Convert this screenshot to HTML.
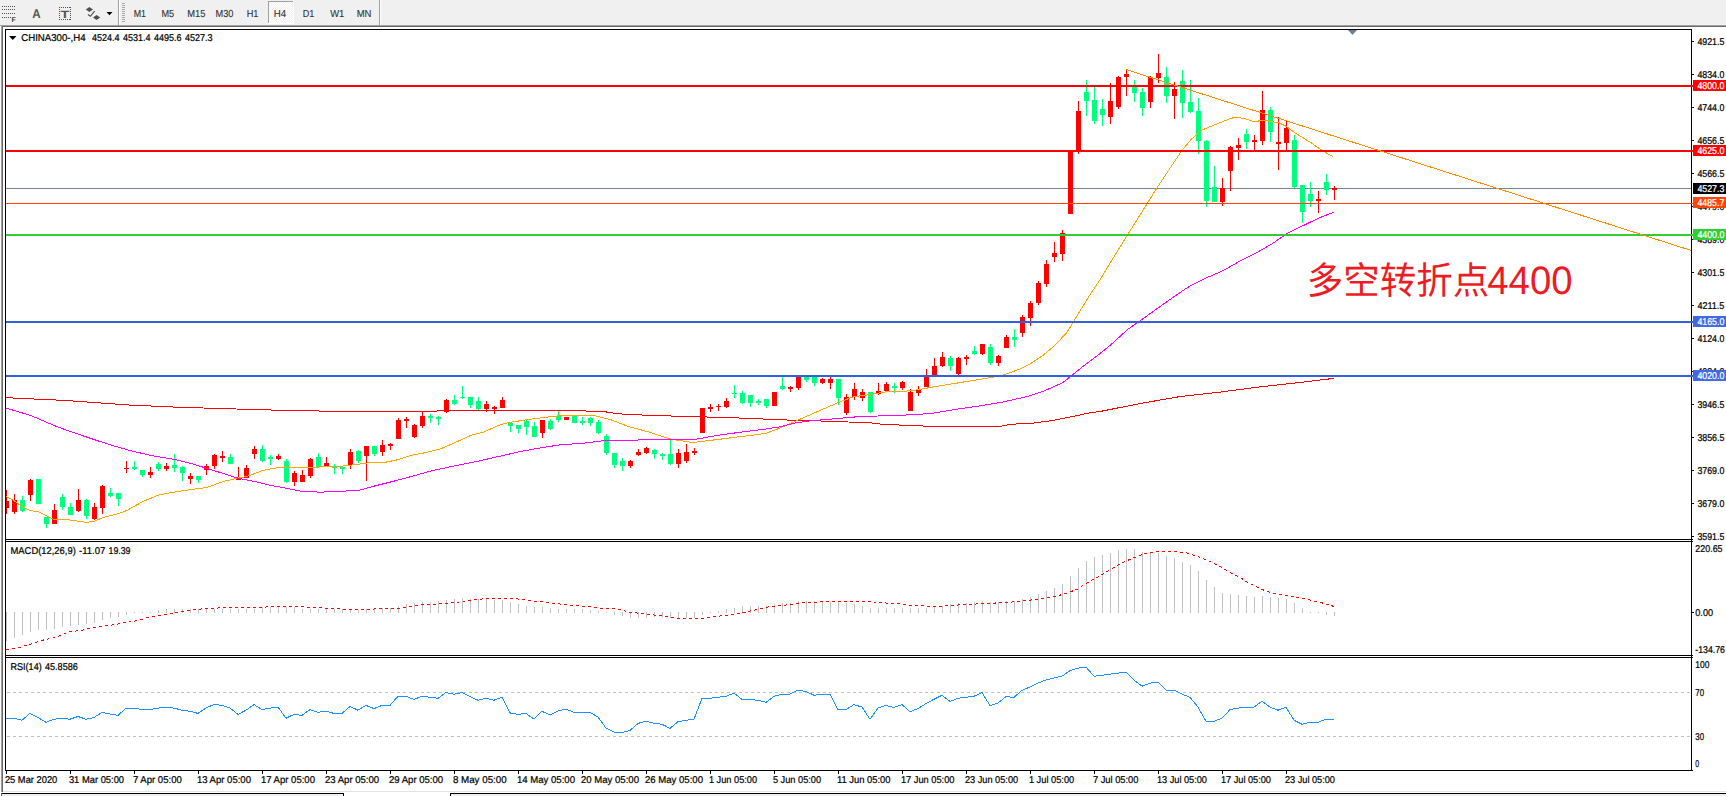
<!DOCTYPE html>
<html lang="zh"><head><meta charset="utf-8"><title>CHINA300-,H4</title>
<style>
html,body{margin:0;padding:0;background:#fff;overflow:hidden}
body{width:1726px;height:796px;position:relative;font-family:"Liberation Sans", "DejaVu Sans", sans-serif}
svg{position:absolute;left:0;top:0;display:block;text-rendering:geometricPrecision}
.t{font-family:"Liberation Sans", "DejaVu Sans", sans-serif;font-size:9.9px;fill:#000;stroke:#000;stroke-width:0.22px}
.tb{font-family:"Liberation Sans", "DejaVu Sans", sans-serif;font-size:10.2px;fill:#303030;stroke:#303030;stroke-width:0.1px}
.w{fill:#fff;stroke:#fff}
.cjk{font-family:"Liberation Sans","Noto Sans CJK SC",sans-serif;font-size:36px;fill:#ed1c24}
</style></head><body>
<svg width="1726" height="796" viewBox="0 0 1726 796">
<g shape-rendering="crispEdges">
<rect x="0" y="0" width="1726" height="796" fill="#fff"/>
<rect x="0" y="0" width="1726" height="25" fill="#f0f0f0"/>
<rect x="0" y="25" width="1726" height="1" fill="#a0a0a0"/>
<rect x="1" y="26" width="1726" height="1" fill="#696969"/>
<rect x="0" y="26" width="1" height="770" fill="#fbfbfb"/>
<rect x="1" y="26" width="1" height="766" fill="#a0a0a0"/>
<rect x="2" y="27" width="1" height="765" fill="#696969"/>
<rect x="3" y="791" width="1726" height="1" fill="#e3e3e3"/>
<rect x="2" y="794" width="341" height="2" fill="#f0f0f0"/>
<rect x="451" y="794" width="1275" height="2" fill="#f0f0f0"/>
<rect x="1" y="793" width="343" height="1" fill="#000"/>
<rect x="343" y="793" width="1" height="3" fill="#000"/>
<rect x="1" y="793" width="1" height="3" fill="#696969"/>
<rect x="450" y="793" width="1276" height="1" fill="#000"/>
<rect x="450" y="793" width="1" height="3" fill="#000"/>
<rect x="5" y="29" width="1" height="742" fill="#000"/>
<rect x="5" y="29" width="1687" height="1" fill="#000"/>
<rect x="1691" y="29" width="1" height="742" fill="#000"/>
<rect x="5" y="539" width="1688" height="1" fill="#000"/>
<rect x="5" y="541" width="1688" height="1" fill="#000"/>
<rect x="5" y="655" width="1688" height="1" fill="#000"/>
<rect x="5" y="657" width="1688" height="1" fill="#000"/>
<rect x="5" y="770" width="1688" height="1" fill="#000"/>
</g>
<g shape-rendering="crispEdges">
<rect x="6" y="188" width="1685" height="1" fill="#76869a"/>
<rect x="6" y="490" width="1" height="24" fill="#ff0000"/>
<rect x="6" y="501" width="3" height="7" fill="#ff0000"/>
<rect x="14" y="494" width="1" height="20" fill="#ff0000"/>
<rect x="12" y="500" width="5" height="12" fill="#ff0000"/>
<rect x="22" y="496" width="1" height="16" fill="#00ff7f"/>
<rect x="20" y="500" width="5" height="11" fill="#00ff7f"/>
<rect x="30" y="479" width="1" height="22" fill="#ff0000"/>
<rect x="28" y="480" width="5" height="15" fill="#ff0000"/>
<rect x="38" y="479" width="1" height="25" fill="#00ff7f"/>
<rect x="36" y="479" width="5" height="25" fill="#00ff7f"/>
<rect x="46" y="517" width="1" height="11" fill="#00ff7f"/>
<rect x="44" y="517" width="5" height="7" fill="#00ff7f"/>
<rect x="54" y="504" width="1" height="20" fill="#ff0000"/>
<rect x="52" y="510" width="5" height="14" fill="#ff0000"/>
<rect x="62" y="494" width="1" height="16" fill="#00ff7f"/>
<rect x="60" y="497" width="5" height="10" fill="#00ff7f"/>
<rect x="70" y="503" width="1" height="12" fill="#00ff7f"/>
<rect x="68" y="507" width="5" height="8" fill="#00ff7f"/>
<rect x="78" y="489" width="1" height="23" fill="#ff0000"/>
<rect x="76" y="500" width="5" height="11" fill="#ff0000"/>
<rect x="86" y="499" width="1" height="20" fill="#00ff7f"/>
<rect x="84" y="500" width="5" height="16" fill="#00ff7f"/>
<rect x="94" y="503" width="1" height="17" fill="#ff0000"/>
<rect x="92" y="507" width="5" height="12" fill="#ff0000"/>
<rect x="102" y="485" width="1" height="29" fill="#ff0000"/>
<rect x="100" y="486" width="5" height="22" fill="#ff0000"/>
<rect x="110" y="488" width="1" height="9" fill="#00ff7f"/>
<rect x="108" y="493" width="5" height="3" fill="#00ff7f"/>
<rect x="118" y="493" width="1" height="13" fill="#00ff7f"/>
<rect x="116" y="493" width="5" height="6" fill="#00ff7f"/>
<rect x="126" y="461" width="1" height="12" fill="#ff0000"/>
<rect x="124" y="468" width="5" height="1" fill="#ff0000"/>
<rect x="134" y="461" width="1" height="9" fill="#00ff7f"/>
<rect x="132" y="467" width="5" height="2" fill="#00ff7f"/>
<rect x="142" y="470" width="1" height="7" fill="#00ff7f"/>
<rect x="140" y="470" width="5" height="5" fill="#00ff7f"/>
<rect x="150" y="467" width="1" height="11" fill="#ff0000"/>
<rect x="148" y="472" width="5" height="3" fill="#ff0000"/>
<rect x="158" y="462" width="1" height="9" fill="#00ff7f"/>
<rect x="156" y="464" width="5" height="5" fill="#00ff7f"/>
<rect x="166" y="463" width="1" height="8" fill="#ff0000"/>
<rect x="164" y="466" width="5" height="3" fill="#ff0000"/>
<rect x="174" y="454" width="1" height="18" fill="#00ff7f"/>
<rect x="172" y="465" width="5" height="3" fill="#00ff7f"/>
<rect x="182" y="466" width="1" height="15" fill="#00ff7f"/>
<rect x="180" y="467" width="5" height="6" fill="#00ff7f"/>
<rect x="190" y="473" width="1" height="11" fill="#ff0000"/>
<rect x="188" y="476" width="5" height="3" fill="#ff0000"/>
<rect x="198" y="476" width="1" height="7" fill="#00ff7f"/>
<rect x="196" y="476" width="5" height="4" fill="#00ff7f"/>
<rect x="206" y="464" width="1" height="11" fill="#ff0000"/>
<rect x="204" y="466" width="5" height="4" fill="#ff0000"/>
<rect x="214" y="454" width="1" height="15" fill="#ff0000"/>
<rect x="212" y="455" width="5" height="11" fill="#ff0000"/>
<rect x="222" y="451" width="1" height="11" fill="#ff0000"/>
<rect x="220" y="456" width="5" height="2" fill="#ff0000"/>
<rect x="230" y="454" width="1" height="10" fill="#00ff7f"/>
<rect x="228" y="457" width="5" height="7" fill="#00ff7f"/>
<rect x="238" y="467" width="1" height="13" fill="#ff0000"/>
<rect x="236" y="477" width="5" height="3" fill="#ff0000"/>
<rect x="246" y="465" width="1" height="13" fill="#ff0000"/>
<rect x="244" y="468" width="5" height="10" fill="#ff0000"/>
<rect x="254" y="446" width="1" height="13" fill="#ff0000"/>
<rect x="252" y="449" width="5" height="5" fill="#ff0000"/>
<rect x="262" y="445" width="1" height="17" fill="#00ff7f"/>
<rect x="260" y="449" width="5" height="12" fill="#00ff7f"/>
<rect x="270" y="455" width="1" height="10" fill="#00ff7f"/>
<rect x="268" y="457" width="5" height="2" fill="#00ff7f"/>
<rect x="278" y="454" width="1" height="6" fill="#ff0000"/>
<rect x="276" y="456" width="5" height="3" fill="#ff0000"/>
<rect x="286" y="459" width="1" height="24" fill="#00ff7f"/>
<rect x="284" y="461" width="5" height="21" fill="#00ff7f"/>
<rect x="294" y="471" width="1" height="15" fill="#ff0000"/>
<rect x="292" y="473" width="5" height="9" fill="#ff0000"/>
<rect x="302" y="470" width="1" height="12" fill="#ff0000"/>
<rect x="300" y="475" width="5" height="7" fill="#ff0000"/>
<rect x="310" y="458" width="1" height="20" fill="#ff0000"/>
<rect x="308" y="459" width="5" height="17" fill="#ff0000"/>
<rect x="318" y="453" width="1" height="15" fill="#00ff7f"/>
<rect x="316" y="457" width="5" height="10" fill="#00ff7f"/>
<rect x="326" y="457" width="1" height="10" fill="#ff0000"/>
<rect x="324" y="463" width="5" height="4" fill="#ff0000"/>
<rect x="334" y="464" width="1" height="10" fill="#00ff7f"/>
<rect x="332" y="467" width="5" height="1" fill="#00ff7f"/>
<rect x="342" y="467" width="1" height="7" fill="#00ff7f"/>
<rect x="340" y="467" width="5" height="2" fill="#00ff7f"/>
<rect x="350" y="449" width="1" height="20" fill="#ff0000"/>
<rect x="348" y="452" width="5" height="13" fill="#ff0000"/>
<rect x="358" y="450" width="1" height="13" fill="#00ff7f"/>
<rect x="356" y="451" width="5" height="10" fill="#00ff7f"/>
<rect x="366" y="446" width="1" height="35" fill="#ff0000"/>
<rect x="364" y="446" width="5" height="10" fill="#ff0000"/>
<rect x="374" y="446" width="1" height="10" fill="#00ff7f"/>
<rect x="372" y="446" width="5" height="8" fill="#00ff7f"/>
<rect x="382" y="440" width="1" height="16" fill="#ff0000"/>
<rect x="380" y="445" width="5" height="7" fill="#ff0000"/>
<rect x="390" y="443" width="1" height="7" fill="#ff0000"/>
<rect x="388" y="444" width="5" height="2" fill="#ff0000"/>
<rect x="398" y="418" width="1" height="21" fill="#ff0000"/>
<rect x="396" y="420" width="5" height="19" fill="#ff0000"/>
<rect x="406" y="417" width="1" height="11" fill="#ff0000"/>
<rect x="404" y="419" width="5" height="2" fill="#ff0000"/>
<rect x="414" y="424" width="1" height="14" fill="#ff0000"/>
<rect x="412" y="425" width="5" height="12" fill="#ff0000"/>
<rect x="422" y="412" width="1" height="16" fill="#ff0000"/>
<rect x="420" y="416" width="5" height="10" fill="#ff0000"/>
<rect x="430" y="414" width="1" height="9" fill="#00ff7f"/>
<rect x="428" y="416" width="5" height="2" fill="#00ff7f"/>
<rect x="438" y="416" width="1" height="9" fill="#00ff7f"/>
<rect x="436" y="417" width="5" height="2" fill="#00ff7f"/>
<rect x="446" y="399" width="1" height="14" fill="#ff0000"/>
<rect x="444" y="400" width="5" height="12" fill="#ff0000"/>
<rect x="454" y="395" width="1" height="10" fill="#00ff7f"/>
<rect x="452" y="400" width="5" height="4" fill="#00ff7f"/>
<rect x="462" y="386" width="1" height="13" fill="#00ff7f"/>
<rect x="460" y="397" width="5" height="1" fill="#00ff7f"/>
<rect x="470" y="397" width="1" height="11" fill="#00ff7f"/>
<rect x="468" y="397" width="5" height="8" fill="#00ff7f"/>
<rect x="478" y="397" width="1" height="13" fill="#00ff7f"/>
<rect x="476" y="401" width="5" height="8" fill="#00ff7f"/>
<rect x="486" y="401" width="1" height="11" fill="#ff0000"/>
<rect x="484" y="404" width="5" height="5" fill="#ff0000"/>
<rect x="494" y="406" width="1" height="8" fill="#ff0000"/>
<rect x="492" y="407" width="5" height="2" fill="#ff0000"/>
<rect x="502" y="397" width="1" height="11" fill="#ff0000"/>
<rect x="500" y="400" width="5" height="8" fill="#ff0000"/>
<rect x="510" y="423" width="1" height="9" fill="#00ff7f"/>
<rect x="508" y="423" width="5" height="3" fill="#00ff7f"/>
<rect x="518" y="425" width="1" height="8" fill="#00ff7f"/>
<rect x="516" y="425" width="5" height="4" fill="#00ff7f"/>
<rect x="526" y="420" width="1" height="15" fill="#00ff7f"/>
<rect x="524" y="421" width="5" height="6" fill="#00ff7f"/>
<rect x="534" y="422" width="1" height="15" fill="#00ff7f"/>
<rect x="532" y="426" width="5" height="11" fill="#00ff7f"/>
<rect x="542" y="420" width="1" height="18" fill="#ff0000"/>
<rect x="540" y="420" width="5" height="13" fill="#ff0000"/>
<rect x="550" y="419" width="1" height="11" fill="#00ff7f"/>
<rect x="548" y="421" width="5" height="8" fill="#00ff7f"/>
<rect x="558" y="411" width="1" height="11" fill="#00ff7f"/>
<rect x="556" y="416" width="5" height="4" fill="#00ff7f"/>
<rect x="566" y="417" width="1" height="3" fill="#ff0000"/>
<rect x="564" y="417" width="5" height="3" fill="#ff0000"/>
<rect x="574" y="416" width="1" height="7" fill="#00ff7f"/>
<rect x="572" y="416" width="5" height="7" fill="#00ff7f"/>
<rect x="582" y="417" width="1" height="8" fill="#00ff7f"/>
<rect x="580" y="421" width="5" height="2" fill="#00ff7f"/>
<rect x="590" y="417" width="1" height="9" fill="#00ff7f"/>
<rect x="588" y="418" width="5" height="5" fill="#00ff7f"/>
<rect x="598" y="420" width="1" height="14" fill="#00ff7f"/>
<rect x="596" y="422" width="5" height="11" fill="#00ff7f"/>
<rect x="606" y="434" width="1" height="21" fill="#00ff7f"/>
<rect x="604" y="436" width="5" height="17" fill="#00ff7f"/>
<rect x="614" y="453" width="1" height="15" fill="#00ff7f"/>
<rect x="612" y="453" width="5" height="12" fill="#00ff7f"/>
<rect x="622" y="458" width="1" height="13" fill="#00ff7f"/>
<rect x="620" y="461" width="5" height="5" fill="#00ff7f"/>
<rect x="630" y="460" width="1" height="8" fill="#ff0000"/>
<rect x="628" y="461" width="5" height="5" fill="#ff0000"/>
<rect x="638" y="449" width="1" height="7" fill="#ff0000"/>
<rect x="636" y="452" width="5" height="3" fill="#ff0000"/>
<rect x="646" y="447" width="1" height="7" fill="#ff0000"/>
<rect x="644" y="448" width="5" height="5" fill="#ff0000"/>
<rect x="654" y="449" width="1" height="10" fill="#00ff7f"/>
<rect x="652" y="450" width="5" height="4" fill="#00ff7f"/>
<rect x="662" y="453" width="1" height="7" fill="#00ff7f"/>
<rect x="660" y="454" width="5" height="2" fill="#00ff7f"/>
<rect x="670" y="438" width="1" height="27" fill="#00ff7f"/>
<rect x="668" y="454" width="5" height="10" fill="#00ff7f"/>
<rect x="678" y="449" width="1" height="19" fill="#ff0000"/>
<rect x="676" y="453" width="5" height="11" fill="#ff0000"/>
<rect x="686" y="444" width="1" height="19" fill="#ff0000"/>
<rect x="684" y="452" width="5" height="9" fill="#ff0000"/>
<rect x="694" y="448" width="1" height="7" fill="#ff0000"/>
<rect x="692" y="451" width="5" height="2" fill="#ff0000"/>
<rect x="702" y="408" width="1" height="25" fill="#ff0000"/>
<rect x="700" y="408" width="5" height="25" fill="#ff0000"/>
<rect x="710" y="404" width="1" height="8" fill="#ff0000"/>
<rect x="708" y="407" width="5" height="2" fill="#ff0000"/>
<rect x="718" y="404" width="1" height="7" fill="#ff0000"/>
<rect x="716" y="406" width="5" height="1" fill="#ff0000"/>
<rect x="726" y="398" width="1" height="10" fill="#ff0000"/>
<rect x="724" y="401" width="5" height="6" fill="#ff0000"/>
<rect x="734" y="385" width="1" height="13" fill="#00ff7f"/>
<rect x="732" y="393" width="5" height="1" fill="#00ff7f"/>
<rect x="742" y="391" width="1" height="13" fill="#00ff7f"/>
<rect x="740" y="393" width="5" height="10" fill="#00ff7f"/>
<rect x="750" y="395" width="1" height="12" fill="#00ff7f"/>
<rect x="748" y="395" width="5" height="8" fill="#00ff7f"/>
<rect x="758" y="399" width="1" height="6" fill="#00ff7f"/>
<rect x="756" y="401" width="5" height="2" fill="#00ff7f"/>
<rect x="766" y="399" width="1" height="9" fill="#00ff7f"/>
<rect x="764" y="399" width="5" height="7" fill="#00ff7f"/>
<rect x="774" y="392" width="1" height="14" fill="#ff0000"/>
<rect x="772" y="392" width="5" height="14" fill="#ff0000"/>
<rect x="782" y="377" width="1" height="13" fill="#00ff7f"/>
<rect x="780" y="386" width="5" height="3" fill="#00ff7f"/>
<rect x="790" y="386" width="1" height="6" fill="#ff0000"/>
<rect x="788" y="387" width="5" height="2" fill="#ff0000"/>
<rect x="798" y="377" width="1" height="13" fill="#ff0000"/>
<rect x="796" y="377" width="5" height="11" fill="#ff0000"/>
<rect x="806" y="377" width="1" height="5" fill="#00ff7f"/>
<rect x="804" y="377" width="5" height="3" fill="#00ff7f"/>
<rect x="814" y="377" width="1" height="9" fill="#00ff7f"/>
<rect x="812" y="377" width="5" height="6" fill="#00ff7f"/>
<rect x="822" y="378" width="1" height="6" fill="#ff0000"/>
<rect x="820" y="379" width="5" height="4" fill="#ff0000"/>
<rect x="830" y="377" width="1" height="12" fill="#ff0000"/>
<rect x="828" y="379" width="5" height="4" fill="#ff0000"/>
<rect x="838" y="379" width="1" height="26" fill="#00ff7f"/>
<rect x="836" y="379" width="5" height="19" fill="#00ff7f"/>
<rect x="846" y="394" width="1" height="21" fill="#ff0000"/>
<rect x="844" y="397" width="5" height="16" fill="#ff0000"/>
<rect x="854" y="383" width="1" height="17" fill="#ff0000"/>
<rect x="852" y="389" width="5" height="8" fill="#ff0000"/>
<rect x="862" y="389" width="1" height="12" fill="#ff0000"/>
<rect x="860" y="392" width="5" height="6" fill="#ff0000"/>
<rect x="870" y="392" width="1" height="21" fill="#00ff7f"/>
<rect x="868" y="392" width="5" height="20" fill="#00ff7f"/>
<rect x="878" y="383" width="1" height="12" fill="#ff0000"/>
<rect x="876" y="391" width="5" height="3" fill="#ff0000"/>
<rect x="886" y="382" width="1" height="9" fill="#ff0000"/>
<rect x="884" y="384" width="5" height="7" fill="#ff0000"/>
<rect x="894" y="383" width="1" height="10" fill="#00ff7f"/>
<rect x="892" y="386" width="5" height="2" fill="#00ff7f"/>
<rect x="902" y="381" width="1" height="9" fill="#ff0000"/>
<rect x="900" y="382" width="5" height="6" fill="#ff0000"/>
<rect x="910" y="389" width="1" height="22" fill="#ff0000"/>
<rect x="908" y="392" width="5" height="19" fill="#ff0000"/>
<rect x="918" y="386" width="1" height="10" fill="#ff0000"/>
<rect x="916" y="389" width="5" height="4" fill="#ff0000"/>
<rect x="926" y="369" width="1" height="18" fill="#ff0000"/>
<rect x="924" y="376" width="5" height="11" fill="#ff0000"/>
<rect x="934" y="358" width="1" height="17" fill="#ff0000"/>
<rect x="932" y="366" width="5" height="9" fill="#ff0000"/>
<rect x="942" y="352" width="1" height="15" fill="#ff0000"/>
<rect x="940" y="357" width="5" height="9" fill="#ff0000"/>
<rect x="950" y="356" width="1" height="15" fill="#00ff7f"/>
<rect x="948" y="358" width="5" height="8" fill="#00ff7f"/>
<rect x="958" y="357" width="1" height="18" fill="#ff0000"/>
<rect x="956" y="358" width="5" height="16" fill="#ff0000"/>
<rect x="966" y="355" width="1" height="10" fill="#ff0000"/>
<rect x="964" y="357" width="5" height="2" fill="#ff0000"/>
<rect x="974" y="346" width="1" height="9" fill="#00ff7f"/>
<rect x="972" y="351" width="5" height="3" fill="#00ff7f"/>
<rect x="982" y="344" width="1" height="11" fill="#ff0000"/>
<rect x="980" y="344" width="5" height="10" fill="#ff0000"/>
<rect x="990" y="344" width="1" height="21" fill="#00ff7f"/>
<rect x="988" y="347" width="5" height="16" fill="#00ff7f"/>
<rect x="998" y="355" width="1" height="11" fill="#ff0000"/>
<rect x="996" y="356" width="5" height="7" fill="#ff0000"/>
<rect x="1006" y="335" width="1" height="13" fill="#ff0000"/>
<rect x="1004" y="337" width="5" height="11" fill="#ff0000"/>
<rect x="1014" y="329" width="1" height="18" fill="#00ff7f"/>
<rect x="1012" y="337" width="5" height="3" fill="#00ff7f"/>
<rect x="1022" y="315" width="1" height="22" fill="#ff0000"/>
<rect x="1020" y="317" width="5" height="16" fill="#ff0000"/>
<rect x="1030" y="301" width="1" height="25" fill="#ff0000"/>
<rect x="1028" y="303" width="5" height="15" fill="#ff0000"/>
<rect x="1038" y="281" width="1" height="24" fill="#ff0000"/>
<rect x="1036" y="283" width="5" height="20" fill="#ff0000"/>
<rect x="1046" y="260" width="1" height="27" fill="#ff0000"/>
<rect x="1044" y="264" width="5" height="20" fill="#ff0000"/>
<rect x="1054" y="242" width="1" height="20" fill="#ff0000"/>
<rect x="1052" y="253" width="5" height="4" fill="#ff0000"/>
<rect x="1062" y="230" width="1" height="31" fill="#ff0000"/>
<rect x="1060" y="233" width="5" height="21" fill="#ff0000"/>
<rect x="1070" y="151" width="1" height="63" fill="#ff0000"/>
<rect x="1068" y="151" width="5" height="63" fill="#ff0000"/>
<rect x="1078" y="101" width="1" height="53" fill="#ff0000"/>
<rect x="1076" y="111" width="5" height="40" fill="#ff0000"/>
<rect x="1086" y="80" width="1" height="36" fill="#00ff7f"/>
<rect x="1084" y="92" width="5" height="9" fill="#00ff7f"/>
<rect x="1094" y="87" width="1" height="37" fill="#00ff7f"/>
<rect x="1092" y="100" width="5" height="21" fill="#00ff7f"/>
<rect x="1102" y="99" width="1" height="27" fill="#00ff7f"/>
<rect x="1100" y="109" width="5" height="6" fill="#00ff7f"/>
<rect x="1110" y="83" width="1" height="41" fill="#ff0000"/>
<rect x="1108" y="101" width="5" height="16" fill="#ff0000"/>
<rect x="1118" y="76" width="1" height="33" fill="#ff0000"/>
<rect x="1116" y="77" width="5" height="30" fill="#ff0000"/>
<rect x="1126" y="69" width="1" height="27" fill="#ff0000"/>
<rect x="1124" y="74" width="5" height="3" fill="#ff0000"/>
<rect x="1134" y="80" width="1" height="22" fill="#00ff7f"/>
<rect x="1132" y="87" width="5" height="6" fill="#00ff7f"/>
<rect x="1142" y="88" width="1" height="28" fill="#00ff7f"/>
<rect x="1140" y="92" width="5" height="16" fill="#00ff7f"/>
<rect x="1150" y="76" width="1" height="32" fill="#ff0000"/>
<rect x="1148" y="77" width="5" height="25" fill="#ff0000"/>
<rect x="1158" y="54" width="1" height="29" fill="#ff0000"/>
<rect x="1156" y="73" width="5" height="5" fill="#ff0000"/>
<rect x="1166" y="67" width="1" height="36" fill="#00ff7f"/>
<rect x="1164" y="77" width="5" height="19" fill="#00ff7f"/>
<rect x="1174" y="82" width="1" height="37" fill="#ff0000"/>
<rect x="1172" y="89" width="5" height="7" fill="#ff0000"/>
<rect x="1182" y="70" width="1" height="48" fill="#00ff7f"/>
<rect x="1180" y="81" width="5" height="22" fill="#00ff7f"/>
<rect x="1190" y="80" width="1" height="33" fill="#00ff7f"/>
<rect x="1188" y="102" width="5" height="10" fill="#00ff7f"/>
<rect x="1198" y="98" width="1" height="56" fill="#00ff7f"/>
<rect x="1196" y="111" width="5" height="30" fill="#00ff7f"/>
<rect x="1206" y="140" width="1" height="67" fill="#00ff7f"/>
<rect x="1204" y="141" width="5" height="60" fill="#00ff7f"/>
<rect x="1214" y="166" width="1" height="36" fill="#00ff7f"/>
<rect x="1212" y="187" width="5" height="15" fill="#00ff7f"/>
<rect x="1222" y="178" width="1" height="28" fill="#ff0000"/>
<rect x="1220" y="188" width="5" height="14" fill="#ff0000"/>
<rect x="1230" y="146" width="1" height="45" fill="#ff0000"/>
<rect x="1228" y="147" width="5" height="24" fill="#ff0000"/>
<rect x="1238" y="138" width="1" height="22" fill="#ff0000"/>
<rect x="1236" y="145" width="5" height="3" fill="#ff0000"/>
<rect x="1246" y="129" width="1" height="20" fill="#00ff7f"/>
<rect x="1244" y="134" width="5" height="8" fill="#00ff7f"/>
<rect x="1254" y="135" width="1" height="15" fill="#ff0000"/>
<rect x="1252" y="140" width="5" height="2" fill="#ff0000"/>
<rect x="1262" y="91" width="1" height="54" fill="#ff0000"/>
<rect x="1260" y="110" width="5" height="31" fill="#ff0000"/>
<rect x="1270" y="107" width="1" height="35" fill="#00ff7f"/>
<rect x="1268" y="110" width="5" height="22" fill="#00ff7f"/>
<rect x="1278" y="117" width="1" height="53" fill="#ff0000"/>
<rect x="1276" y="142" width="5" height="2" fill="#ff0000"/>
<rect x="1286" y="120" width="1" height="30" fill="#ff0000"/>
<rect x="1284" y="128" width="5" height="15" fill="#ff0000"/>
<rect x="1294" y="135" width="1" height="53" fill="#00ff7f"/>
<rect x="1292" y="140" width="5" height="47" fill="#00ff7f"/>
<rect x="1302" y="185" width="1" height="38" fill="#00ff7f"/>
<rect x="1300" y="185" width="5" height="27" fill="#00ff7f"/>
<rect x="1310" y="182" width="1" height="25" fill="#00ff7f"/>
<rect x="1308" y="194" width="5" height="7" fill="#00ff7f"/>
<rect x="1318" y="191" width="1" height="22" fill="#ff0000"/>
<rect x="1316" y="199" width="5" height="2" fill="#ff0000"/>
<rect x="1326" y="174" width="1" height="21" fill="#00ff7f"/>
<rect x="1324" y="182" width="5" height="8" fill="#00ff7f"/>
<rect x="1334" y="186" width="1" height="14" fill="#ff0000"/>
<rect x="1332" y="188" width="5" height="2" fill="#ff0000"/>
</g>
<polyline points="6.0,397.7 66.3,400.5 130.6,405.1 174.8,407.1 219.0,408.5 288.0,410.5 330.0,411.2 434.7,411.2 447.0,410.2 568.0,410.2 570.0,410.7 602.0,411.3 618.0,413.8 636.0,414.8 682.6,416.4 707.0,417.0 723.0,417.5 739.0,418.0 751.0,418.5 763.0,419.0 775.0,419.6 811.0,420.8 841.0,421.4 848.0,422.0 866.0,422.3 882.0,424.3 906.0,425.3 930.0,426.3 1000.8,426.3 1010.8,424.3 1033.0,423.1 1051.0,420.7 1067.0,417.7 1091.0,412.6 1100.0,411.5 1140.2,403.5 1180.4,396.5 1220.6,392.0 1260.8,386.8 1301.0,382.4 1333.5,378.4" fill="none" stroke="#ff0000" stroke-width="1" shape-rendering="crispEdges"/>
<polyline points="6.0,496.6 14.0,500.6 22.0,506.6 30.0,510.6 38.0,511.6 46.0,515.7 54.0,519.3 70.0,520.0 86.4,522.3 94.5,521.3 102.5,517.7 118.6,513.6 126.6,510.6 142.7,501.6 158.8,495.0 174.8,492.0 191.0,489.5 207.0,487.5 223.0,481.5 239.0,477.9 247.0,476.5 263.0,470.4 279.0,467.4 288.0,467.4 306.0,467.5 330.0,466.5 346.0,465.9 368.4,462.8 384.5,462.4 396.6,460.0 410.6,455.4 424.7,452.8 440.8,448.8 454.8,442.7 471.0,435.3 483.0,432.3 499.0,425.3 507.0,422.9 521.0,420.6 535.0,418.6 551.0,416.6 561.0,415.6 594.0,415.4 610.0,419.4 628.0,426.4 650.4,432.4 668.5,438.5 676.6,440.1 692.6,442.5 704.7,441.1 720.8,439.1 732.8,437.5 751.0,435.5 767.0,433.0 779.0,428.4 795.0,421.4 811.0,414.4 827.3,407.3 841.4,401.3 854.0,396.6 870.0,394.6 886.0,391.9 906.0,391.1 920.0,389.5 930.0,387.5 954.5,383.5 978.7,379.5 993.7,377.1 1004.8,374.5 1018.9,369.4 1031.0,363.4 1043.0,355.4 1055.0,345.3 1067.0,332.3 1075.0,319.2 1083.0,306.1 1091.0,293.1 1099.2,281.0 1110.4,262.6 1126.5,236.5 1138.5,217.4 1148.6,201.3 1158.6,185.3 1168.7,170.2 1180.7,152.1 1190.8,139.8 1200.7,130.6 1210.7,126.4 1220.8,122.4 1230.8,118.4 1236.8,117.0 1244.9,118.8 1255.0,121.8 1263.0,120.0 1271.0,121.4 1279.0,122.8 1287.0,126.8 1295.0,132.8 1303.2,137.9 1311.2,142.9 1319.2,148.5 1327.3,153.5 1333.3,156.6" fill="none" stroke="#ffa500" stroke-width="1" shape-rendering="crispEdges"/>
<polyline points="6.0,408.1 30.0,415.2 58.3,427.2 84.4,436.3 108.5,444.3 130.6,450.7 150.7,455.4 174.8,459.4 191.0,463.4 207.0,468.4 223.0,473.4 239.0,478.5 255.0,481.5 271.0,485.5 280.0,487.0 300.0,491.0 320.0,492.2 346.0,491.0 360.0,490.0 374.5,486.0 396.6,480.5 418.7,474.5 432.7,470.5 454.8,465.9 477.0,461.4 499.0,456.4 521.0,451.4 543.0,447.4 560.0,444.9 586.0,442.9 602.0,440.9 642.4,439.9 696.7,439.1 716.8,435.5 738.9,432.4 763.0,429.4 779.0,427.0 795.0,423.0 811.0,420.8 827.3,419.4 840.0,418.3 858.0,416.7 906.0,415.0 930.0,413.6 954.5,409.6 978.7,406.0 1002.8,402.0 1027.0,396.6 1043.0,391.5 1063.0,382.5 1073.0,374.5 1083.0,366.4 1099.0,354.4 1111.3,344.3 1128.0,329.2 1140.2,320.7 1169.3,300.0 1183.7,290.0 1190.8,285.7 1206.8,277.7 1223.0,270.7 1239.0,261.6 1255.0,253.6 1271.0,244.5 1287.2,233.5 1299.3,227.5 1318.0,218.4 1334.2,212.0" fill="none" stroke="#ff00ff" stroke-width="1" shape-rendering="crispEdges"/>
<g shape-rendering="crispEdges">
<rect x="6" y="85" width="1687" height="2" fill="#ff0000"/>
<rect x="6" y="150" width="1687" height="2" fill="#ff0000"/>
<rect x="6" y="203" width="1687" height="1" fill="#ff4500"/>
<rect x="6" y="234" width="1687" height="2" fill="#32cd32"/>
<rect x="6" y="321" width="1687" height="2" fill="#3560dc"/>
<rect x="6" y="375" width="1687" height="2" fill="#3560dc"/>
</g>
<polyline points="1126.0,69.5 1691.0,250.4" fill="none" stroke="#ff8c00" stroke-width="1" shape-rendering="crispEdges"/>
<polygon points="1348,30 1357,30 1352.5,35" fill="#708090"/>
<g shape-rendering="crispEdges">
<rect x="6" y="612" width="1" height="29" fill="#c0c0c0"/>
<rect x="14" y="612" width="1" height="26" fill="#c0c0c0"/>
<rect x="22" y="612" width="1" height="23" fill="#c0c0c0"/>
<rect x="30" y="612" width="1" height="20" fill="#c0c0c0"/>
<rect x="38" y="612" width="1" height="18" fill="#c0c0c0"/>
<rect x="46" y="612" width="1" height="18" fill="#c0c0c0"/>
<rect x="54" y="612" width="1" height="17" fill="#c0c0c0"/>
<rect x="62" y="612" width="1" height="15" fill="#c0c0c0"/>
<rect x="70" y="612" width="1" height="14" fill="#c0c0c0"/>
<rect x="78" y="612" width="1" height="13" fill="#c0c0c0"/>
<rect x="86" y="612" width="1" height="12" fill="#c0c0c0"/>
<rect x="94" y="612" width="1" height="11" fill="#c0c0c0"/>
<rect x="102" y="612" width="1" height="8" fill="#c0c0c0"/>
<rect x="110" y="612" width="1" height="6" fill="#c0c0c0"/>
<rect x="118" y="612" width="1" height="5" fill="#c0c0c0"/>
<rect x="126" y="612" width="1" height="3" fill="#c0c0c0"/>
<rect x="134" y="612" width="1" height="1" fill="#c0c0c0"/>
<rect x="142" y="612" width="1" height="1" fill="#c0c0c0"/>
<rect x="150" y="612" width="1" height="1" fill="#c0c0c0"/>
<rect x="158" y="610" width="1" height="3" fill="#c0c0c0"/>
<rect x="166" y="609" width="1" height="4" fill="#c0c0c0"/>
<rect x="174" y="609" width="1" height="4" fill="#c0c0c0"/>
<rect x="182" y="609" width="1" height="4" fill="#c0c0c0"/>
<rect x="190" y="609" width="1" height="4" fill="#c0c0c0"/>
<rect x="198" y="609" width="1" height="4" fill="#c0c0c0"/>
<rect x="206" y="609" width="1" height="4" fill="#c0c0c0"/>
<rect x="214" y="609" width="1" height="4" fill="#c0c0c0"/>
<rect x="222" y="609" width="1" height="4" fill="#c0c0c0"/>
<rect x="230" y="609" width="1" height="4" fill="#c0c0c0"/>
<rect x="238" y="609" width="1" height="4" fill="#c0c0c0"/>
<rect x="246" y="609" width="1" height="4" fill="#c0c0c0"/>
<rect x="254" y="609" width="1" height="4" fill="#c0c0c0"/>
<rect x="262" y="607" width="1" height="6" fill="#c0c0c0"/>
<rect x="270" y="607" width="1" height="6" fill="#c0c0c0"/>
<rect x="278" y="607" width="1" height="6" fill="#c0c0c0"/>
<rect x="286" y="607" width="1" height="6" fill="#c0c0c0"/>
<rect x="294" y="607" width="1" height="6" fill="#c0c0c0"/>
<rect x="302" y="609" width="1" height="4" fill="#c0c0c0"/>
<rect x="310" y="609" width="1" height="4" fill="#c0c0c0"/>
<rect x="318" y="609" width="1" height="4" fill="#c0c0c0"/>
<rect x="326" y="609" width="1" height="4" fill="#c0c0c0"/>
<rect x="334" y="609" width="1" height="4" fill="#c0c0c0"/>
<rect x="342" y="609" width="1" height="4" fill="#c0c0c0"/>
<rect x="350" y="610" width="1" height="3" fill="#c0c0c0"/>
<rect x="358" y="610" width="1" height="3" fill="#c0c0c0"/>
<rect x="366" y="609" width="1" height="4" fill="#c0c0c0"/>
<rect x="374" y="609" width="1" height="4" fill="#c0c0c0"/>
<rect x="382" y="608" width="1" height="5" fill="#c0c0c0"/>
<rect x="390" y="608" width="1" height="5" fill="#c0c0c0"/>
<rect x="398" y="606" width="1" height="7" fill="#c0c0c0"/>
<rect x="406" y="604" width="1" height="9" fill="#c0c0c0"/>
<rect x="414" y="603" width="1" height="10" fill="#c0c0c0"/>
<rect x="422" y="602" width="1" height="11" fill="#c0c0c0"/>
<rect x="430" y="602" width="1" height="11" fill="#c0c0c0"/>
<rect x="438" y="601" width="1" height="12" fill="#c0c0c0"/>
<rect x="446" y="600" width="1" height="13" fill="#c0c0c0"/>
<rect x="454" y="599" width="1" height="14" fill="#c0c0c0"/>
<rect x="462" y="598" width="1" height="15" fill="#c0c0c0"/>
<rect x="470" y="599" width="1" height="14" fill="#c0c0c0"/>
<rect x="478" y="599" width="1" height="14" fill="#c0c0c0"/>
<rect x="486" y="599" width="1" height="14" fill="#c0c0c0"/>
<rect x="494" y="600" width="1" height="13" fill="#c0c0c0"/>
<rect x="502" y="600" width="1" height="13" fill="#c0c0c0"/>
<rect x="510" y="602" width="1" height="11" fill="#c0c0c0"/>
<rect x="518" y="604" width="1" height="9" fill="#c0c0c0"/>
<rect x="526" y="606" width="1" height="7" fill="#c0c0c0"/>
<rect x="534" y="607" width="1" height="6" fill="#c0c0c0"/>
<rect x="542" y="607" width="1" height="6" fill="#c0c0c0"/>
<rect x="550" y="608" width="1" height="5" fill="#c0c0c0"/>
<rect x="558" y="609" width="1" height="4" fill="#c0c0c0"/>
<rect x="566" y="609" width="1" height="4" fill="#c0c0c0"/>
<rect x="574" y="609" width="1" height="4" fill="#c0c0c0"/>
<rect x="582" y="609" width="1" height="4" fill="#c0c0c0"/>
<rect x="590" y="610" width="1" height="3" fill="#c0c0c0"/>
<rect x="598" y="611" width="1" height="2" fill="#c0c0c0"/>
<rect x="606" y="612" width="1" height="1" fill="#c0c0c0"/>
<rect x="614" y="612" width="1" height="3" fill="#c0c0c0"/>
<rect x="622" y="612" width="1" height="4" fill="#c0c0c0"/>
<rect x="630" y="612" width="1" height="6" fill="#c0c0c0"/>
<rect x="638" y="612" width="1" height="6" fill="#c0c0c0"/>
<rect x="646" y="612" width="1" height="6" fill="#c0c0c0"/>
<rect x="654" y="612" width="1" height="5" fill="#c0c0c0"/>
<rect x="662" y="612" width="1" height="5" fill="#c0c0c0"/>
<rect x="670" y="612" width="1" height="6" fill="#c0c0c0"/>
<rect x="678" y="612" width="1" height="6" fill="#c0c0c0"/>
<rect x="686" y="612" width="1" height="6" fill="#c0c0c0"/>
<rect x="694" y="612" width="1" height="6" fill="#c0c0c0"/>
<rect x="702" y="612" width="1" height="3" fill="#c0c0c0"/>
<rect x="710" y="612" width="1" height="1" fill="#c0c0c0"/>
<rect x="718" y="611" width="1" height="2" fill="#c0c0c0"/>
<rect x="726" y="609" width="1" height="4" fill="#c0c0c0"/>
<rect x="734" y="608" width="1" height="5" fill="#c0c0c0"/>
<rect x="742" y="606" width="1" height="7" fill="#c0c0c0"/>
<rect x="750" y="606" width="1" height="7" fill="#c0c0c0"/>
<rect x="758" y="606" width="1" height="7" fill="#c0c0c0"/>
<rect x="766" y="606" width="1" height="7" fill="#c0c0c0"/>
<rect x="774" y="604" width="1" height="9" fill="#c0c0c0"/>
<rect x="782" y="603" width="1" height="10" fill="#c0c0c0"/>
<rect x="790" y="603" width="1" height="10" fill="#c0c0c0"/>
<rect x="798" y="601" width="1" height="12" fill="#c0c0c0"/>
<rect x="806" y="601" width="1" height="12" fill="#c0c0c0"/>
<rect x="814" y="601" width="1" height="12" fill="#c0c0c0"/>
<rect x="822" y="602" width="1" height="11" fill="#c0c0c0"/>
<rect x="830" y="602" width="1" height="11" fill="#c0c0c0"/>
<rect x="838" y="602" width="1" height="11" fill="#c0c0c0"/>
<rect x="846" y="603" width="1" height="10" fill="#c0c0c0"/>
<rect x="854" y="604" width="1" height="9" fill="#c0c0c0"/>
<rect x="862" y="606" width="1" height="7" fill="#c0c0c0"/>
<rect x="870" y="608" width="1" height="5" fill="#c0c0c0"/>
<rect x="878" y="608" width="1" height="5" fill="#c0c0c0"/>
<rect x="886" y="608" width="1" height="5" fill="#c0c0c0"/>
<rect x="894" y="608" width="1" height="5" fill="#c0c0c0"/>
<rect x="902" y="608" width="1" height="5" fill="#c0c0c0"/>
<rect x="910" y="608" width="1" height="5" fill="#c0c0c0"/>
<rect x="918" y="608" width="1" height="5" fill="#c0c0c0"/>
<rect x="926" y="608" width="1" height="5" fill="#c0c0c0"/>
<rect x="934" y="606" width="1" height="7" fill="#c0c0c0"/>
<rect x="942" y="606" width="1" height="7" fill="#c0c0c0"/>
<rect x="950" y="604" width="1" height="9" fill="#c0c0c0"/>
<rect x="958" y="603" width="1" height="10" fill="#c0c0c0"/>
<rect x="966" y="603" width="1" height="10" fill="#c0c0c0"/>
<rect x="974" y="602" width="1" height="11" fill="#c0c0c0"/>
<rect x="982" y="601" width="1" height="12" fill="#c0c0c0"/>
<rect x="990" y="602" width="1" height="11" fill="#c0c0c0"/>
<rect x="998" y="602" width="1" height="11" fill="#c0c0c0"/>
<rect x="1006" y="601" width="1" height="12" fill="#c0c0c0"/>
<rect x="1014" y="601" width="1" height="12" fill="#c0c0c0"/>
<rect x="1022" y="599" width="1" height="14" fill="#c0c0c0"/>
<rect x="1030" y="597" width="1" height="16" fill="#c0c0c0"/>
<rect x="1038" y="594" width="1" height="19" fill="#c0c0c0"/>
<rect x="1046" y="591" width="1" height="22" fill="#c0c0c0"/>
<rect x="1054" y="588" width="1" height="25" fill="#c0c0c0"/>
<rect x="1062" y="584" width="1" height="29" fill="#c0c0c0"/>
<rect x="1070" y="576" width="1" height="37" fill="#c0c0c0"/>
<rect x="1078" y="568" width="1" height="45" fill="#c0c0c0"/>
<rect x="1086" y="561" width="1" height="52" fill="#c0c0c0"/>
<rect x="1094" y="557" width="1" height="56" fill="#c0c0c0"/>
<rect x="1102" y="555" width="1" height="58" fill="#c0c0c0"/>
<rect x="1110" y="553" width="1" height="60" fill="#c0c0c0"/>
<rect x="1118" y="550" width="1" height="63" fill="#c0c0c0"/>
<rect x="1126" y="549" width="1" height="64" fill="#c0c0c0"/>
<rect x="1134" y="549" width="1" height="64" fill="#c0c0c0"/>
<rect x="1142" y="552" width="1" height="61" fill="#c0c0c0"/>
<rect x="1150" y="552" width="1" height="61" fill="#c0c0c0"/>
<rect x="1158" y="553" width="1" height="60" fill="#c0c0c0"/>
<rect x="1166" y="556" width="1" height="57" fill="#c0c0c0"/>
<rect x="1174" y="558" width="1" height="55" fill="#c0c0c0"/>
<rect x="1182" y="562" width="1" height="51" fill="#c0c0c0"/>
<rect x="1190" y="565" width="1" height="48" fill="#c0c0c0"/>
<rect x="1198" y="571" width="1" height="42" fill="#c0c0c0"/>
<rect x="1206" y="580" width="1" height="33" fill="#c0c0c0"/>
<rect x="1214" y="587" width="1" height="26" fill="#c0c0c0"/>
<rect x="1222" y="593" width="1" height="20" fill="#c0c0c0"/>
<rect x="1230" y="594" width="1" height="19" fill="#c0c0c0"/>
<rect x="1238" y="595" width="1" height="18" fill="#c0c0c0"/>
<rect x="1246" y="596" width="1" height="17" fill="#c0c0c0"/>
<rect x="1254" y="597" width="1" height="16" fill="#c0c0c0"/>
<rect x="1262" y="596" width="1" height="17" fill="#c0c0c0"/>
<rect x="1270" y="597" width="1" height="16" fill="#c0c0c0"/>
<rect x="1278" y="598" width="1" height="15" fill="#c0c0c0"/>
<rect x="1286" y="599" width="1" height="14" fill="#c0c0c0"/>
<rect x="1294" y="603" width="1" height="10" fill="#c0c0c0"/>
<rect x="1302" y="608" width="1" height="5" fill="#c0c0c0"/>
<rect x="1310" y="612" width="1" height="1" fill="#c0c0c0"/>
<rect x="1318" y="612" width="1" height="1" fill="#c0c0c0"/>
<rect x="1326" y="612" width="1" height="3" fill="#c0c0c0"/>
<rect x="1334" y="612" width="1" height="4" fill="#c0c0c0"/>
</g>
<polyline points="6.0,649.7 18.8,647.6 31.3,644.0 43.8,639.9 56.3,637.2 68.8,632.0 83.4,629.9 98.0,626.7 110.6,625.3 125.2,622.6 137.7,620.5 146.0,618.0 162.7,615.3 177.3,612.1 194.0,609.4 210.7,608.4 227.4,607.5 260.7,607.5 271.2,606.5 296.2,606.5 312.9,607.5 338.0,608.6 350.0,609.6 374.0,609.0 398.0,608.4 408.4,606.9 422.0,604.8 441.8,603.8 457.4,602.3 466.8,600.7 475.2,599.2 496.0,598.6 504.4,598.2 521.0,599.2 529.4,600.7 546.0,602.3 558.6,603.8 571.0,605.5 592.0,606.9 600.3,608.4 617.0,609.0 629.5,612.1 642.0,613.6 652.5,614.8 665.0,616.3 675.4,618.0 702.0,618.4 720.9,615.9 733.4,614.6 750.0,611.1 768.8,606.9 791.8,604.4 798.0,603.2 829.3,601.3 866.9,601.3 881.5,602.7 906.5,604.4 908.6,605.5 937.8,606.3 960.7,604.8 992.0,603.2 1008.7,602.3 1025.4,600.7 1033.7,599.6 1050.4,597.5 1063.0,594.4 1077.5,589.2 1088.0,582.3 1100.5,575.6 1111.0,569.0 1123.4,562.1 1136.0,556.9 1144.3,553.7 1156.8,551.6 1184.0,552.1 1196.4,556.2 1206.9,560.0 1219.4,566.2 1232.0,573.5 1240.3,577.7 1248.6,582.9 1261.0,589.2 1273.6,593.4 1290.3,595.9 1302.8,598.2 1315.4,601.3 1325.8,603.8 1334.0,606.5" fill="none" stroke="#ff0000" stroke-width="1" shape-rendering="crispEdges" stroke-dasharray="3,3"/>
<g shape-rendering="crispEdges">
<line x1="7" y1="692.5" x2="1691" y2="692.5" stroke="#c0c0c0" stroke-width="1" stroke-dasharray="3,3"/>
<line x1="7" y1="736.5" x2="1691" y2="736.5" stroke="#c0c0c0" stroke-width="1" stroke-dasharray="3,3"/>
</g>
<polyline points="6.0,718.2 14.0,718.2 22.0,720.2 30.0,713.4 38.0,717.5 46.0,722.3 54.0,719.2 62.0,718.2 70.0,719.2 78.0,716.5 86.0,719.2 94.0,717.5 102.0,712.3 110.0,714.0 118.0,715.4 126.0,708.1 134.0,708.1 142.0,709.6 150.0,709.6 158.0,708.1 166.0,707.1 174.0,708.1 182.0,710.2 190.0,711.3 198.0,713.4 206.0,708.1 214.0,704.4 222.0,705.4 230.0,708.1 238.0,714.4 246.0,710.2 254.0,704.6 262.0,709.6 270.0,708.1 278.0,707.1 286.0,718.2 294.0,714.4 302.0,715.4 310.0,709.6 318.0,712.3 326.0,711.3 334.0,713.4 342.0,713.4 350.0,706.5 358.0,710.2 366.0,705.4 374.0,708.6 382.0,705.4 390.0,705.4 398.0,696.3 406.0,696.3 414.0,699.4 422.0,696.3 430.0,697.3 438.0,698.3 446.0,692.5 454.0,694.2 462.0,692.5 470.0,696.7 478.0,700.2 486.0,698.3 494.0,700.2 502.0,697.3 510.0,712.9 518.0,714.4 526.0,713.4 534.0,719.2 542.0,711.3 550.0,715.0 558.0,710.9 566.0,709.2 574.0,712.3 582.0,712.3 590.0,712.3 598.0,717.1 606.0,728.0 614.0,732.1 622.0,732.6 630.0,730.5 638.0,723.4 646.0,721.3 654.0,723.2 662.0,724.2 670.0,728.4 678.0,721.7 686.0,720.2 694.0,719.2 702.0,698.3 710.0,698.3 718.0,697.3 726.0,696.3 734.0,693.1 742.0,699.4 750.0,699.4 758.0,700.4 766.0,702.3 774.0,696.3 782.0,694.2 790.0,694.2 798.0,690.0 806.0,691.5 814.0,695.2 822.0,694.2 830.0,694.2 838.0,709.6 846.0,709.6 854.0,704.6 862.0,707.1 870.0,719.2 878.0,708.1 886.0,705.4 894.0,707.5 902.0,704.6 910.0,711.7 918.0,708.6 926.0,703.6 934.0,699.2 942.0,695.2 950.0,701.5 958.0,698.3 966.0,697.3 974.0,696.3 982.0,692.5 990.0,705.6 998.0,702.9 1006.0,696.7 1014.0,697.3 1022.0,690.4 1030.0,686.9 1038.0,683.1 1046.0,680.0 1054.0,677.9 1062.0,676.2 1070.0,670.6 1078.0,668.1 1086.0,667.1 1094.0,676.2 1102.0,675.4 1110.0,674.1 1118.0,673.1 1126.0,672.1 1134.0,680.0 1142.0,686.2 1150.0,683.1 1158.0,682.1 1166.0,690.0 1174.0,690.0 1182.0,694.2 1190.0,697.3 1198.0,707.1 1206.0,721.3 1214.0,721.3 1222.0,718.2 1230.0,709.6 1238.0,708.1 1246.0,707.1 1254.0,707.1 1262.0,701.3 1270.0,707.1 1278.0,710.2 1286.0,707.1 1294.0,720.2 1302.0,724.2 1310.0,722.3 1318.0,722.3 1326.0,719.2 1334.0,719.2" fill="none" stroke="#1e90ff" stroke-width="1" shape-rendering="crispEdges"/>
<g shape-rendering="crispEdges">
<rect x="1692" y="41" width="2" height="1" fill="#000"/>
<rect x="1692" y="74" width="2" height="1" fill="#000"/>
<rect x="1692" y="107" width="2" height="1" fill="#000"/>
<rect x="1692" y="140" width="2" height="1" fill="#000"/>
<rect x="1692" y="173" width="2" height="1" fill="#000"/>
<rect x="1692" y="206" width="2" height="1" fill="#000"/>
<rect x="1692" y="239" width="2" height="1" fill="#000"/>
<rect x="1692" y="272" width="2" height="1" fill="#000"/>
<rect x="1692" y="305" width="2" height="1" fill="#000"/>
<rect x="1692" y="338" width="2" height="1" fill="#000"/>
<rect x="1692" y="371" width="2" height="1" fill="#000"/>
<rect x="1692" y="404" width="2" height="1" fill="#000"/>
<rect x="1692" y="437" width="2" height="1" fill="#000"/>
<rect x="1692" y="470" width="2" height="1" fill="#000"/>
<rect x="1692" y="503" width="2" height="1" fill="#000"/>
<rect x="1692" y="536" width="2" height="1" fill="#000"/>
<rect x="1692" y="612" width="2" height="1" fill="#000"/>
<rect x="6" y="771" width="1" height="3" fill="#000"/>
<rect x="70" y="771" width="1" height="3" fill="#000"/>
<rect x="134" y="771" width="1" height="3" fill="#000"/>
<rect x="198" y="771" width="1" height="3" fill="#000"/>
<rect x="262" y="771" width="1" height="3" fill="#000"/>
<rect x="326" y="771" width="1" height="3" fill="#000"/>
<rect x="390" y="771" width="1" height="3" fill="#000"/>
<rect x="454" y="771" width="1" height="3" fill="#000"/>
<rect x="518" y="771" width="1" height="3" fill="#000"/>
<rect x="582" y="771" width="1" height="3" fill="#000"/>
<rect x="646" y="771" width="1" height="3" fill="#000"/>
<rect x="710" y="771" width="1" height="3" fill="#000"/>
<rect x="774" y="771" width="1" height="3" fill="#000"/>
<rect x="838" y="771" width="1" height="3" fill="#000"/>
<rect x="902" y="771" width="1" height="3" fill="#000"/>
<rect x="966" y="771" width="1" height="3" fill="#000"/>
<rect x="1030" y="771" width="1" height="3" fill="#000"/>
<rect x="1094" y="771" width="1" height="3" fill="#000"/>
<rect x="1158" y="771" width="1" height="3" fill="#000"/>
<rect x="1222" y="771" width="1" height="3" fill="#000"/>
<rect x="1286" y="771" width="1" height="3" fill="#000"/>
</g>
<text x="1697.4" y="44.8" class="t" textLength="27" lengthAdjust="spacingAndGlyphs">4921.5</text>
<text x="1697.4" y="77.8" class="t" textLength="27" lengthAdjust="spacingAndGlyphs">4834.0</text>
<text x="1697.4" y="110.8" class="t" textLength="27" lengthAdjust="spacingAndGlyphs">4744.0</text>
<text x="1697.4" y="143.9" class="t" textLength="27" lengthAdjust="spacingAndGlyphs">4656.5</text>
<text x="1697.4" y="176.9" class="t" textLength="27" lengthAdjust="spacingAndGlyphs">4566.5</text>
<text x="1697.4" y="209.9" class="t" textLength="27" lengthAdjust="spacingAndGlyphs">4479.0</text>
<text x="1697.4" y="242.9" class="t" textLength="27" lengthAdjust="spacingAndGlyphs">4389.0</text>
<text x="1697.4" y="275.9" class="t" textLength="27" lengthAdjust="spacingAndGlyphs">4301.5</text>
<text x="1697.4" y="309.0" class="t" textLength="27" lengthAdjust="spacingAndGlyphs">4211.5</text>
<text x="1697.4" y="342.0" class="t" textLength="27" lengthAdjust="spacingAndGlyphs">4124.0</text>
<text x="1697.4" y="375.0" class="t" textLength="27" lengthAdjust="spacingAndGlyphs">4034.0</text>
<text x="1697.4" y="408.0" class="t" textLength="27" lengthAdjust="spacingAndGlyphs">3946.5</text>
<text x="1697.4" y="441.0" class="t" textLength="27" lengthAdjust="spacingAndGlyphs">3856.5</text>
<text x="1697.4" y="474.1" class="t" textLength="27" lengthAdjust="spacingAndGlyphs">3769.0</text>
<text x="1697.4" y="507.1" class="t" textLength="27" lengthAdjust="spacingAndGlyphs">3679.0</text>
<text x="1697.4" y="540.1" class="t" textLength="27" lengthAdjust="spacingAndGlyphs">3591.5</text>
<rect x="1693" y="80" width="33" height="11" fill="#ff0000" shape-rendering="crispEdges"/>
<text x="1697.4" y="89.2" class="t w" textLength="27" lengthAdjust="spacingAndGlyphs">4800.0</text>
<rect x="1693" y="145" width="33" height="11" fill="#ff0000" shape-rendering="crispEdges"/>
<text x="1697.4" y="154.2" class="t w" textLength="27" lengthAdjust="spacingAndGlyphs">4625.0</text>
<rect x="1693" y="183" width="33" height="11" fill="#000000" shape-rendering="crispEdges"/>
<text x="1697.4" y="192.2" class="t w" textLength="27" lengthAdjust="spacingAndGlyphs">4527.3</text>
<rect x="1693" y="197" width="33" height="11" fill="#ff4500" shape-rendering="crispEdges"/>
<text x="1697.4" y="206.2" class="t w" textLength="27" lengthAdjust="spacingAndGlyphs">4485.7</text>
<rect x="1693" y="229" width="33" height="11" fill="#32cd32" shape-rendering="crispEdges"/>
<text x="1697.4" y="238.2" class="t w" textLength="27" lengthAdjust="spacingAndGlyphs">4400.0</text>
<rect x="1693" y="316" width="33" height="11" fill="#4169e1" shape-rendering="crispEdges"/>
<text x="1697.4" y="325.2" class="t w" textLength="27" lengthAdjust="spacingAndGlyphs">4165.0</text>
<rect x="1693" y="370" width="33" height="11" fill="#4169e1" shape-rendering="crispEdges"/>
<text x="1697.4" y="379.2" class="t w" textLength="27" lengthAdjust="spacingAndGlyphs">4020.0</text>
<text x="1695.3" y="552" class="t" textLength="27.3" lengthAdjust="spacingAndGlyphs">220.65</text>
<text x="1695.3" y="615.6" class="t" textLength="17.7" lengthAdjust="spacingAndGlyphs">0.00</text>
<text x="1695.3" y="652.6" class="t" textLength="29.7" lengthAdjust="spacingAndGlyphs">-134.76</text>
<text x="1695.3" y="668" class="t" textLength="14.1" lengthAdjust="spacingAndGlyphs">100</text>
<text x="1695.3" y="696" class="t" textLength="8.8" lengthAdjust="spacingAndGlyphs">70</text>
<text x="1695.3" y="740" class="t" textLength="8.8" lengthAdjust="spacingAndGlyphs">30</text>
<text x="1695.3" y="767" class="t" textLength="3.9" lengthAdjust="spacingAndGlyphs">0</text>
<polygon points="9,36 16.5,36 12.75,40" fill="#000"/>
<text y="40.7" class="t"><tspan x="21.2" textLength="64.4" lengthAdjust="spacingAndGlyphs">CHINA300-,H4</tspan><tspan>  </tspan><tspan x="91.9" textLength="27.5" lengthAdjust="spacingAndGlyphs">4524.4</tspan><tspan> </tspan><tspan x="123" textLength="27.5" lengthAdjust="spacingAndGlyphs">4531.4</tspan><tspan> </tspan><tspan x="154" textLength="27.5" lengthAdjust="spacingAndGlyphs">4495.6</tspan><tspan> </tspan><tspan x="184.9" textLength="27.5" lengthAdjust="spacingAndGlyphs">4527.3</tspan></text>
<text y="553.9" class="t"><tspan x="10.5" textLength="65.3" lengthAdjust="spacingAndGlyphs">MACD(12,26,9)</tspan><tspan> </tspan><tspan x="79" textLength="26.4" lengthAdjust="spacingAndGlyphs">-11.07</tspan><tspan> </tspan><tspan x="108.6" textLength="21.9" lengthAdjust="spacingAndGlyphs">19.39</tspan></text>
<text y="669.9" class="t"><tspan x="10.5" textLength="31.2" lengthAdjust="spacingAndGlyphs">RSI(14)</tspan><tspan> </tspan><tspan x="45" textLength="32.8" lengthAdjust="spacingAndGlyphs">45.8586</tspan></text>
<text x="4.9" y="783.2" class="t" textLength="52.4" lengthAdjust="spacingAndGlyphs">25 Mar 2020</text>
<text x="68.9" y="783.2" class="t" textLength="55.199999999999996" lengthAdjust="spacingAndGlyphs">31 Mar 05:00</text>
<text x="132.9" y="783.2" class="t" textLength="48.9" lengthAdjust="spacingAndGlyphs">7 Apr 05:00</text>
<text x="196.9" y="783.2" class="t" textLength="54.099999999999994" lengthAdjust="spacingAndGlyphs">13 Apr 05:00</text>
<text x="260.9" y="783.2" class="t" textLength="54.099999999999994" lengthAdjust="spacingAndGlyphs">17 Apr 05:00</text>
<text x="324.9" y="783.2" class="t" textLength="54.3" lengthAdjust="spacingAndGlyphs">23 Apr 05:00</text>
<text x="388.9" y="783.2" class="t" textLength="54.3" lengthAdjust="spacingAndGlyphs">29 Apr 05:00</text>
<text x="452.9" y="783.2" class="t" textLength="53.8" lengthAdjust="spacingAndGlyphs">8 May 05:00</text>
<text x="516.9" y="783.2" class="t" textLength="58.099999999999994" lengthAdjust="spacingAndGlyphs">14 May 05:00</text>
<text x="580.9" y="783.2" class="t" textLength="58.099999999999994" lengthAdjust="spacingAndGlyphs">20 May 05:00</text>
<text x="644.9" y="783.2" class="t" textLength="58.099999999999994" lengthAdjust="spacingAndGlyphs">26 May 05:00</text>
<text x="708.9" y="783.2" class="t" textLength="48.199999999999996" lengthAdjust="spacingAndGlyphs">1 Jun 05:00</text>
<text x="772.9" y="783.2" class="t" textLength="48.199999999999996" lengthAdjust="spacingAndGlyphs">5 Jun 05:00</text>
<text x="836.9" y="783.2" class="t" textLength="53.599999999999994" lengthAdjust="spacingAndGlyphs">11 Jun 05:00</text>
<text x="900.9" y="783.2" class="t" textLength="53.599999999999994" lengthAdjust="spacingAndGlyphs">17 Jun 05:00</text>
<text x="964.9" y="783.2" class="t" textLength="53.3" lengthAdjust="spacingAndGlyphs">23 Jun 05:00</text>
<text x="1028.9" y="783.2" class="t" textLength="45.3" lengthAdjust="spacingAndGlyphs">1 Jul 05:00</text>
<text x="1092.9" y="783.2" class="t" textLength="45.599999999999994" lengthAdjust="spacingAndGlyphs">7 Jul 05:00</text>
<text x="1156.9" y="783.2" class="t" textLength="50.099999999999994" lengthAdjust="spacingAndGlyphs">13 Jul 05:00</text>
<text x="1220.9" y="783.2" class="t" textLength="50.099999999999994" lengthAdjust="spacingAndGlyphs">17 Jul 05:00</text>
<text x="1284.9" y="783.2" class="t" textLength="50.099999999999994" lengthAdjust="spacingAndGlyphs">23 Jul 05:00</text>
<text class="cjk"><tspan x="1306.8" y="293.7" font-size="37.8" textLength="182.4" lengthAdjust="spacingAndGlyphs">多空转折点</tspan><tspan x="1487.3" y="293.5" font-size="39.6" textLength="85.2" lengthAdjust="spacingAndGlyphs">4400</tspan></text>
<g shape-rendering="crispEdges">
<rect x="2" y="6" width="1" height="1" fill="#505050"/>
<rect x="4" y="6" width="1" height="1" fill="#505050"/>
<rect x="6" y="6" width="1" height="1" fill="#505050"/>
<rect x="8" y="6" width="1" height="1" fill="#505050"/>
<rect x="10" y="6" width="1" height="1" fill="#505050"/>
<rect x="12" y="6" width="1" height="1" fill="#505050"/>
<rect x="14" y="6" width="1" height="1" fill="#505050"/>
<rect x="2" y="9" width="1" height="1" fill="#505050"/>
<rect x="4" y="9" width="1" height="1" fill="#505050"/>
<rect x="6" y="9" width="1" height="1" fill="#505050"/>
<rect x="8" y="9" width="1" height="1" fill="#505050"/>
<rect x="10" y="9" width="1" height="1" fill="#505050"/>
<rect x="12" y="9" width="1" height="1" fill="#505050"/>
<rect x="14" y="9" width="1" height="1" fill="#505050"/>
<rect x="2" y="13" width="1" height="1" fill="#505050"/>
<rect x="4" y="13" width="1" height="1" fill="#505050"/>
<rect x="6" y="13" width="1" height="1" fill="#505050"/>
<rect x="8" y="13" width="1" height="1" fill="#505050"/>
<rect x="10" y="13" width="1" height="1" fill="#505050"/>
<rect x="12" y="13" width="1" height="1" fill="#505050"/>
<rect x="14" y="13" width="1" height="1" fill="#505050"/>
<rect x="2" y="17" width="1" height="1" fill="#505050"/>
<rect x="4" y="17" width="1" height="1" fill="#505050"/>
<rect x="6" y="17" width="1" height="1" fill="#505050"/>
<rect x="8" y="17" width="1" height="1" fill="#505050"/>
<rect x="10" y="17" width="1" height="1" fill="#505050"/>
<rect x="118" y="0" width="1" height="25" fill="#a0a0a0"/>
<rect x="119" y="0" width="1" height="25" fill="#ffffff"/>
<rect x="122" y="3" width="3" height="1" fill="#a8a8a8"/>
<rect x="122" y="5" width="3" height="1" fill="#a8a8a8"/>
<rect x="122" y="7" width="3" height="1" fill="#a8a8a8"/>
<rect x="122" y="9" width="3" height="1" fill="#a8a8a8"/>
<rect x="122" y="11" width="3" height="1" fill="#a8a8a8"/>
<rect x="122" y="13" width="3" height="1" fill="#a8a8a8"/>
<rect x="122" y="15" width="3" height="1" fill="#a8a8a8"/>
<rect x="122" y="17" width="3" height="1" fill="#a8a8a8"/>
<rect x="122" y="19" width="3" height="1" fill="#a8a8a8"/>
<rect x="122" y="21" width="3" height="1" fill="#a8a8a8"/>
<rect x="379" y="0" width="1" height="25" fill="#a0a0a0"/>
<rect x="380" y="0" width="1" height="25" fill="#ffffff"/>
<defs><pattern id="chk" width="2" height="2" patternUnits="userSpaceOnUse"><rect width="2" height="2" fill="#f0f0f0"/><rect width="1" height="1" fill="#fff"/><rect x="1" y="1" width="1" height="1" fill="#fff"/></pattern></defs>
<rect x="269" y="2" width="24" height="21" fill="url(#chk)"/>
<rect x="268" y="1" width="25" height="1" fill="#a0a0a0"/>
<rect x="268" y="1" width="1" height="22" fill="#a0a0a0"/>
<rect x="268" y="23" width="26" height="1" fill="#ffffff"/>
<rect x="293" y="1" width="1" height="23" fill="#ffffff"/>
<rect x="59" y="7" width="1" height="1" fill="#505050"/>
<rect x="59" y="19" width="1" height="1" fill="#505050"/>
<rect x="61" y="7" width="1" height="1" fill="#505050"/>
<rect x="61" y="19" width="1" height="1" fill="#505050"/>
<rect x="63" y="7" width="1" height="1" fill="#505050"/>
<rect x="63" y="19" width="1" height="1" fill="#505050"/>
<rect x="65" y="7" width="1" height="1" fill="#505050"/>
<rect x="65" y="19" width="1" height="1" fill="#505050"/>
<rect x="67" y="7" width="1" height="1" fill="#505050"/>
<rect x="67" y="19" width="1" height="1" fill="#505050"/>
<rect x="69" y="7" width="1" height="1" fill="#505050"/>
<rect x="69" y="19" width="1" height="1" fill="#505050"/>
<rect x="59" y="7" width="1" height="1" fill="#505050"/>
<rect x="70" y="7" width="1" height="1" fill="#505050"/>
<rect x="59" y="9" width="1" height="1" fill="#505050"/>
<rect x="70" y="9" width="1" height="1" fill="#505050"/>
<rect x="59" y="11" width="1" height="1" fill="#505050"/>
<rect x="70" y="11" width="1" height="1" fill="#505050"/>
<rect x="59" y="13" width="1" height="1" fill="#505050"/>
<rect x="70" y="13" width="1" height="1" fill="#505050"/>
<rect x="59" y="15" width="1" height="1" fill="#505050"/>
<rect x="70" y="15" width="1" height="1" fill="#505050"/>
<rect x="59" y="17" width="1" height="1" fill="#505050"/>
<rect x="70" y="17" width="1" height="1" fill="#505050"/>
<rect x="59" y="19" width="1" height="1" fill="#505050"/>
<rect x="70" y="19" width="1" height="1" fill="#505050"/>
</g>
<text x="11.6" y="21.8" style="font:bold 7px 'Liberation Sans',sans-serif" fill="#404040">F</text>
<text x="32.3" y="18" style="font:bold 12.6px 'Liberation Sans',sans-serif" fill="#555" textLength="8.4" lengthAdjust="spacingAndGlyphs">A</text>
<text x="60.4" y="17.7" style="font:bold 10.6px 'Liberation Sans',sans-serif" fill="#555" textLength="8.8" lengthAdjust="spacingAndGlyphs">T</text>
<polygon points="85.8,9.5 89.4,7 93,9.5 89.4,12" fill="#505050"/>
<polygon points="93,17.5 96.6,15 100.2,17.5 96.6,20" fill="#505050"/>
<polyline points="88,14.5 90.4,16.3 94.6,11.2" fill="none" stroke="#505050" stroke-width="1.2"/>
<polygon points="106.5,12 112.5,12 109.5,15.2" fill="#000"/>
<text x="133.7" y="17" class="tb" textLength="12.299999999999999" lengthAdjust="spacingAndGlyphs">M1</text>
<text x="161.39999999999998" y="17" class="tb" textLength="12.7" lengthAdjust="spacingAndGlyphs">M5</text>
<text x="187.29999999999998" y="17" class="tb" textLength="18.2" lengthAdjust="spacingAndGlyphs">M15</text>
<text x="215.5" y="17" class="tb" textLength="18.0" lengthAdjust="spacingAndGlyphs">M30</text>
<text x="246.7" y="17" class="tb" textLength="11.799999999999999" lengthAdjust="spacingAndGlyphs">H1</text>
<text x="273.7" y="17" class="tb" textLength="12.399999999999999" lengthAdjust="spacingAndGlyphs">H4</text>
<text x="302.7" y="17" class="tb" textLength="11.7" lengthAdjust="spacingAndGlyphs">D1</text>
<text x="330.2" y="17" class="tb" textLength="14.2" lengthAdjust="spacingAndGlyphs">W1</text>
<text x="356.7" y="17" class="tb" textLength="14.7" lengthAdjust="spacingAndGlyphs">MN</text>
</svg></body></html>
